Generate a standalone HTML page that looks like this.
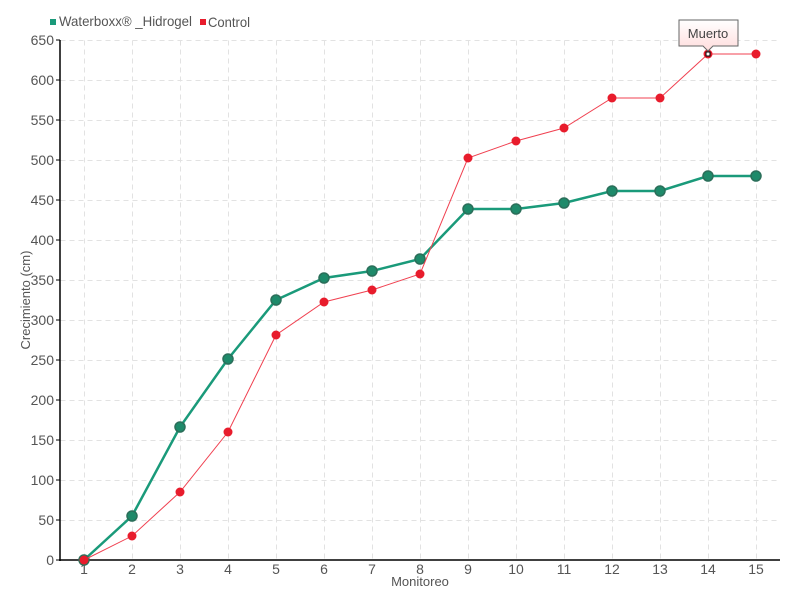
<!DOCTYPE html>
<html><head><style>body{margin:0;background:#fff}svg{display:block;font-family:"Liberation Sans",sans-serif}</style></head><body>
<svg width="800" height="600" xmlns="http://www.w3.org/2000/svg">
<g stroke="#e2e2e2" stroke-dasharray="5,4" stroke-width="1" transform="translate(0.5,0.5)">
<line x1="60" x2="780" y1="40" y2="40"/><line x1="60" x2="780" y1="80" y2="80"/><line x1="60" x2="780" y1="120" y2="120"/><line x1="60" x2="780" y1="160" y2="160"/><line x1="60" x2="780" y1="200" y2="200"/><line x1="60" x2="780" y1="240" y2="240"/><line x1="60" x2="780" y1="280" y2="280"/><line x1="60" x2="780" y1="320" y2="320"/><line x1="60" x2="780" y1="360" y2="360"/><line x1="60" x2="780" y1="400" y2="400"/><line x1="60" x2="780" y1="440" y2="440"/><line x1="60" x2="780" y1="480" y2="480"/><line x1="60" x2="780" y1="520" y2="520"/>
<line x1="84" x2="84" y1="40" y2="560"/><line x1="132" x2="132" y1="40" y2="560"/><line x1="180" x2="180" y1="40" y2="560"/><line x1="228" x2="228" y1="40" y2="560"/><line x1="276" x2="276" y1="40" y2="560"/><line x1="324" x2="324" y1="40" y2="560"/><line x1="372" x2="372" y1="40" y2="560"/><line x1="420" x2="420" y1="40" y2="560"/><line x1="468" x2="468" y1="40" y2="560"/><line x1="516" x2="516" y1="40" y2="560"/><line x1="564" x2="564" y1="40" y2="560"/><line x1="612" x2="612" y1="40" y2="560"/><line x1="660" x2="660" y1="40" y2="560"/><line x1="708" x2="708" y1="40" y2="560"/><line x1="756" x2="756" y1="40" y2="560"/>
</g>
<g stroke="#000" stroke-width="1.5"><line x1="60" x2="60" y1="40" y2="561"/><line x1="59" x2="780" y1="560" y2="560"/></g>
<g stroke="#000"><line x1="56" x2="60" y1="40" y2="40"/><line x1="56" x2="60" y1="80" y2="80"/><line x1="56" x2="60" y1="120" y2="120"/><line x1="56" x2="60" y1="160" y2="160"/><line x1="56" x2="60" y1="200" y2="200"/><line x1="56" x2="60" y1="240" y2="240"/><line x1="56" x2="60" y1="280" y2="280"/><line x1="56" x2="60" y1="320" y2="320"/><line x1="56" x2="60" y1="360" y2="360"/><line x1="56" x2="60" y1="400" y2="400"/><line x1="56" x2="60" y1="440" y2="440"/><line x1="56" x2="60" y1="480" y2="480"/><line x1="56" x2="60" y1="520" y2="520"/><line x1="56" x2="60" y1="560" y2="560"/></g>
<g font-size="14" fill="#555" text-anchor="end">
<text x="54" y="45">650</text><text x="54" y="85">600</text><text x="54" y="125">550</text><text x="54" y="165">500</text><text x="54" y="205">450</text><text x="54" y="245">400</text><text x="54" y="285">350</text><text x="54" y="325">300</text><text x="54" y="365">250</text><text x="54" y="405">200</text><text x="54" y="445">150</text><text x="54" y="485">100</text><text x="54" y="525">50</text><text x="54" y="565">0</text></g>
<g font-size="14" fill="#555" text-anchor="middle">
<text x="84" y="574">1</text><text x="132" y="574">2</text><text x="180" y="574">3</text><text x="228" y="574">4</text><text x="276" y="574">5</text><text x="324" y="574">6</text><text x="372" y="574">7</text><text x="420" y="574">8</text><text x="468" y="574">9</text><text x="516" y="574">10</text><text x="564" y="574">11</text><text x="612" y="574">12</text><text x="660" y="574">13</text><text x="708" y="574">14</text><text x="756" y="574">15</text>
<text x="420" y="586" font-size="13">Monitoreo</text>
<text transform="translate(30,300) rotate(-90)" font-size="13">Crecimiento (cm)</text></g>
<polyline fill="none" stroke="#1a9a7a" stroke-width="2.5" points="84,560 132,516 180,427 228,359 276,300 324,278 372,271 420,259 468,209 516,209 564,203 612,191 660,191 708,176 756,176"/>
<g fill="#1e8a6a" stroke="#2b6f5a" stroke-width="1.5">
<circle cx="84" cy="560" r="5"/><circle cx="132" cy="516" r="5"/><circle cx="180" cy="427" r="5"/><circle cx="228" cy="359" r="5"/><circle cx="276" cy="300" r="5"/><circle cx="324" cy="278" r="5"/><circle cx="372" cy="271" r="5"/><circle cx="420" cy="259" r="5"/><circle cx="468" cy="209" r="5"/><circle cx="516" cy="209" r="5"/><circle cx="564" cy="203" r="5"/><circle cx="612" cy="191" r="5"/><circle cx="660" cy="191" r="5"/><circle cx="708" cy="176" r="5"/><circle cx="756" cy="176" r="5"/></g>
<polyline fill="none" stroke="#f04050" stroke-width="1" points="84,560 132,536 180,492 228,432 276,335 324,302 372,290 420,274 468,158 516,141 564,128 612,98 660,98 708,54 756,54"/>
<g fill="#e81c2c">
<circle cx="84" cy="560" r="4.5"/><circle cx="132" cy="536" r="4.5"/><circle cx="180" cy="492" r="4.5"/><circle cx="228" cy="432" r="4.5"/><circle cx="276" cy="335" r="4.5"/><circle cx="324" cy="302" r="4.5"/><circle cx="372" cy="290" r="4.5"/><circle cx="420" cy="274" r="4.5"/><circle cx="468" cy="158" r="4.5"/><circle cx="516" cy="141" r="4.5"/><circle cx="564" cy="128" r="4.5"/><circle cx="612" cy="98" r="4.5"/><circle cx="660" cy="98" r="4.5"/><circle cx="708" cy="54" r="4.5"/><circle cx="756" cy="54" r="4.5"/></g>
<rect x="706" y="52" width="4" height="4" fill="#fff" stroke="#000"/>
<defs><linearGradient id="g" x1="0" y1="0" x2="0" y2="1"><stop offset="0" stop-color="#fff"/><stop offset="1" stop-color="#fdd"/></linearGradient></defs>
<path d="M679,20 H738 V46 H713 L708,51 L703,46 H679 Z" fill="url(#g)" stroke="#666"/>
<text x="708" y="38" font-size="13" fill="#444" text-anchor="middle">Muerto</text>
<rect x="50" y="19" width="6" height="6" fill="#1a9a7a"/>
<text x="59" y="26" font-size="14" fill="#555" textLength="133" lengthAdjust="spacingAndGlyphs">Waterboxx® _Hidrogel</text>
<rect x="200" y="19" width="6" height="6" fill="#e81c2c"/>
<text x="208" y="27" font-size="14" fill="#555" textLength="42" lengthAdjust="spacingAndGlyphs">Control</text>
</svg>
</body></html>
